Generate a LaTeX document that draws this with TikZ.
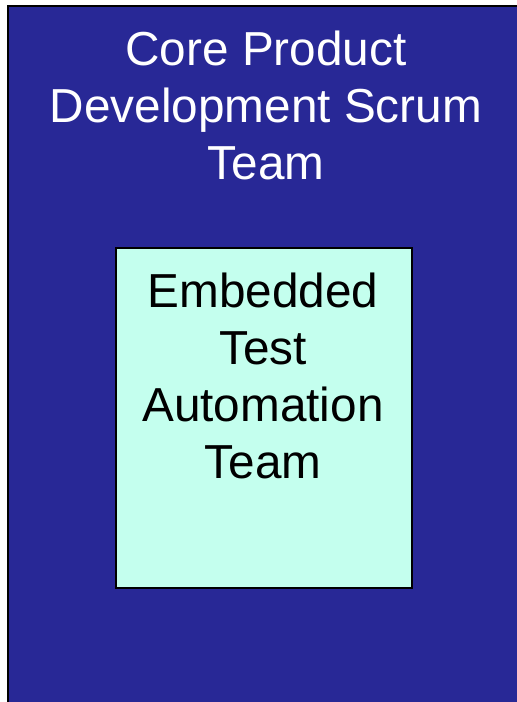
\documentclass[tikz,border=0pt]{standalone}
\usepackage{fontspec}
\setmainfont{Liberation Sans}
\usepackage{xcolor}
\usetikzlibrary{positioning}
\definecolor{scrumblue}{RGB}{40, 40, 150}
\definecolor{testmint}{RGB}{196, 255, 238}

\begin{document}
\begin{tikzpicture}[x=1pt, y=1pt,
    bigtext/.style={font=\fontsize{47.7}{57}\selectfont, align=center, inner sep=0pt, anchor=north}]
    \useasboundingbox (0,0) rectangle (517,702);
    % Scrum team area
    \draw[line width=2pt, fill=scrumblue] (8,696) rectangle (560,-40);
    \node[bigtext, white] (scrumteam) at (266,671) {Core Product\\Development Scrum\\Team};

    % Embedded team box
    \draw[line width=2pt, fill=testmint] (115.5,453.5) rectangle (411.5,113.5);
    \node[bigtext, black] (testteam) at (263,429) {Embedded\\Test\\Automation\\Team};
\end{tikzpicture}
\end{document}
